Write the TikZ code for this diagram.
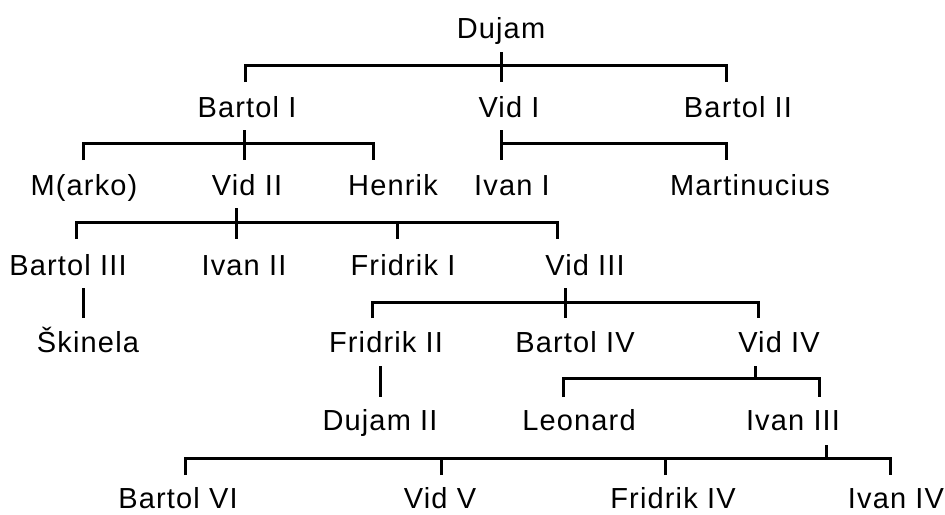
\documentclass[tikz,border=0pt]{standalone}
\usepackage{fontspec}
\newfontfamily\imena[LetterSpace=4]{Liberation Sans}
\usetikzlibrary{calc}

\tikzset{
  oseba/.style={anchor=base, inner sep=0pt, font=\imena\fontsize{14.5}{17}\selectfont},
  crta/.style={line width=1.5pt}
}

\begin{document}
\begin{tikzpicture}[x=0.5pt,y=-0.5pt]
\useasboundingbox (0,0) rectangle (945,514);
% osebe
\node[oseba] (dujam) at (501,38) {Dujam};
\node[oseba] (bartolI) at (247,117) {Bartol I};
\node[oseba] (vidI) at (509,117) {Vid I};
\node[oseba] (bartolII) at (738,117) {Bartol II};
\node[oseba] (marko) at (84,195) {M(arko)};
\node[oseba] (vidII) at (247,195) {Vid II};
\node[oseba] (henrik) at (393,195) {Henrik};
\node[oseba] (ivanI) at (512,195) {Ivan I};
\node[oseba] (martinucius) at (750,195) {Martinucius};
\node[oseba] (bartolIII) at (68,275) {Bartol III};
\node[oseba] (ivanII) at (244,275) {Ivan II};
\node[oseba] (fridrikI) at (403,275) {Fridrik I};
\node[oseba] (vidIII) at (585,275) {Vid III};
\node[oseba] (skinela) at (88,352) {Škinela};
\node[oseba] (fridrikII) at (386,352) {Fridrik II};
\node[oseba] (bartolIV) at (575,352) {Bartol IV};
\node[oseba] (vidIV) at (779,352) {Vid IV};
\node[oseba] (dujamII) at (380,430) {Dujam II};
\node[oseba] (leonard) at (579,430) {Leonard};
\node[oseba] (ivanIII) at (793,430) {Ivan III};
\node[oseba] (bartolVI) at (178,508) {Bartol VI};
\node[oseba] (vidV) at (440,508) {Vid V};
\node[oseba] (fridrikIV) at (673,508) {Fridrik IV};
\node[oseba] (ivanIV) at (896,508) {Ivan IV};
% kje crte dosezejo osebe
\foreach \n/\x/\y in {bartolI/245/82, vidI/501/82, bartolII/726/82,
    marko/83/160, vidII/244/160, henrik/373/160, ivanI/501/160, martinucius/726/160,
    bartolIII/76/239, ivanII/236/239, fridrikI/397/239, vidIII/557/239,
    skinela/83/318, fridrikII/372/318, bartolIV/565/318, vidIV/758/318,
    dujamII/380/397, leonard/563/397, ivanIII/819/397,
    bartolVI/185/475, vidV/441/475, fridrikIV/665/475, ivanIV/890/475}
  \coordinate (\n-t) at (\x,\y);
\foreach \n/\x/\y in {dujam/501/52, bartolI/244/130, vidI/501/130, vidII/236/208,
    bartolIII/83/288, vidIII/565/288, fridrikII/380/366, vidIV/755/366, ivanIII/826/445}
  \coordinate (\n-b) at (\x,\y);
\foreach \n/\x/\y in {dujam/501/65, bartolI/244/143, vidI/501/143, vidII/236/222,
    vidIII/565/302, vidIV/755/378, ivanIII/826/458}
  \coordinate (\n-v) at (\x,\y);
% Dujam
\draw[crta] (dujam-b) -- (vidI-t);
\draw[crta] (bartolI-t) |- (dujam-v) -| (bartolII-t);
% Bartol I, Vid I
\draw[crta] (bartolI-b) -- (vidII-t);
\draw[crta] (marko-t) |- (bartolI-v) -| (henrik-t);
\draw[crta] (vidI-b) -- (ivanI-t);
\draw[crta] (vidI-v) -| (martinucius-t);
% Vid II
\draw[crta] (vidII-b) -- (ivanII-t);
\draw[crta] (bartolIII-t) |- (vidII-v) -| (vidIII-t);
\draw[crta] (fridrikI-t) -- (fridrikI-t |- vidII-v);
\draw[crta] (bartolIII-b) -- (skinela-t);
% Vid III
\draw[crta] (vidIII-b) -- (bartolIV-t);
\draw[crta] (fridrikII-t) |- (vidIII-v) -| (vidIV-t);
\draw[crta] (fridrikII-b) -- (dujamII-t);
% Vid IV
\draw[crta] (vidIV-b) -- (vidIV-v);
\draw[crta] (leonard-t) |- (vidIV-v) -| (ivanIII-t);
% Ivan III
\draw[crta] (ivanIII-b) -- (ivanIII-v);
\draw[crta] (bartolVI-t) |- (ivanIII-v) -| (ivanIV-t);
\foreach \n in {vidV,fridrikIV}
  \draw[crta] (\n-t) -- (\n-t |- ivanIII-v);
\end{tikzpicture}
\end{document}
